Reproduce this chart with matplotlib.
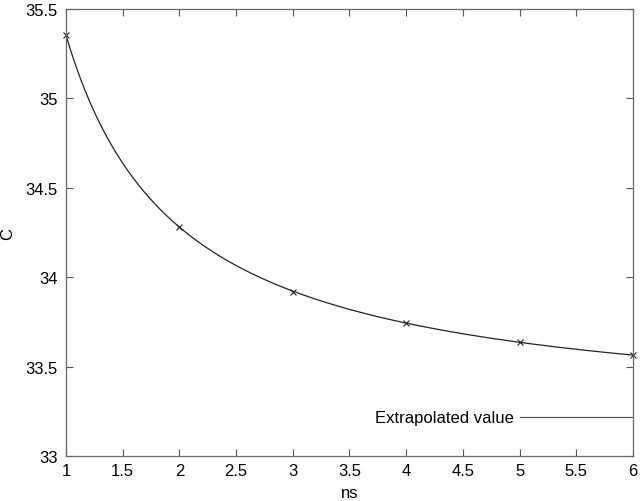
import matplotlib
matplotlib.use("Agg")
import matplotlib.pyplot as plt
import numpy as np

plt.rcParams['font.family'] = ['Liberation Sans', 'DejaVu Sans']

# values
ns = [1, 2, 3, 4, 5, 6]
C = [35.355, 34.28, 33.92, 33.745, 33.636, 33.565]
extrapolated = 33.216
xticks = [1, 1.5, 2, 2.5, 3, 3.5, 4, 4.5, 5, 5.5, 6]
yticks = [33, 33.5, 34, 34.5, 35, 35.5]

# smooth curve: least squares fit C = a + b/ns through the points
b, a = np.polyfit(1.0 / np.array(ns), C, 1)
xs = np.linspace(1, 6, 300)

fig = plt.figure(figsize=(6.4, 5.02), dpi=100)
ax = fig.add_axes([0.103, 0.0896, 0.886, 0.8905])

ax.plot(xs, a + b / xs, color='#222222', lw=0.9)
ax.plot(ns, C, 'x', color='#222222', ms=5, mew=0.8, clip_on=False)

ax.plot([5, 6], [extrapolated, extrapolated], color='#555555', lw=0.9)
ax.text(4.95, extrapolated, 'Extrapolated value', ha='right', va='center', fontsize=12)

ax.set_xlim(1, 6)
ax.set_ylim(33, 35.5)
ax.set_xticks(xticks)
ax.set_xticklabels(['%g' % t for t in xticks])
ax.set_yticks(yticks)
ax.set_yticklabels(['%g' % t for t in yticks])
ax.tick_params(direction='in', top=True, right=True, length=5, width=0.8,
               color='#555555', labelsize=12)
ax.tick_params(axis='y', pad=6)
ax.tick_params(axis='x', pad=5)
for s in ax.spines.values():
    s.set_color('#666666')
    s.set_linewidth(0.9)

ax.set_xlabel('ns', fontsize=12, labelpad=5)
ax.set_ylabel('C', fontsize=12, labelpad=7)

fig.savefig('out.png', dpi=100)
